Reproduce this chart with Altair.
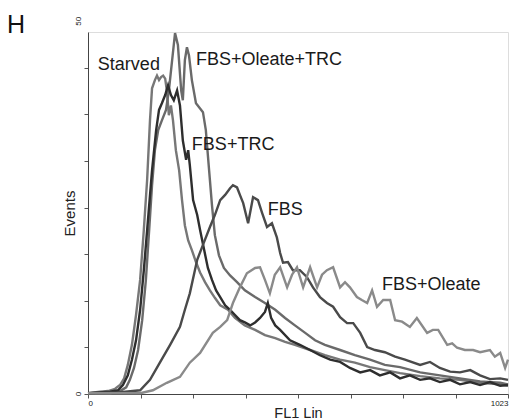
import altair as alt
import pandas as pd

# ---- data: FL1 channel and event counts for each sample ----
starved_ch = [0, 29, 49, 66, 78, 88, 97, 107, 117, 127, 136, 144, 151, 156, 163, 168, 173, 178, 183, 188, 192, 197, 202, 207, 214, 222, 229, 236, 244, 253, 263, 273, 285, 297, 309, 322, 341, 358, 382, 407, 431, 456, 480, 504, 541, 577, 614, 650, 687, 723, 760, 809, 857, 906, 955, 1004, 1023]
starved_n = [0.1, 0.3, 0.4, 0.7, 1.2, 2.1, 3.9, 6.6, 10.6, 15.3, 22.0, 28.7, 36.7, 41.0, 42.1, 42.7, 42.1, 42.5, 42.7, 42.3, 40.7, 37.4, 38.7, 36.7, 32.7, 30.0, 26.0, 22.6, 20.6, 19.3, 17.7, 16.3, 15.0, 13.9, 12.9, 11.9, 11.3, 10.2, 9.2, 8.6, 7.9, 7.5, 7.0, 6.6, 5.9, 5.2, 4.6, 4.2, 3.6, 3.2, 2.8, 2.4, 2.1, 1.9, 1.5, 1.3, 1.1]

oltrc_ch = [0, 54, 78, 93, 102, 112, 122, 132, 141, 149, 156, 163, 171, 180, 190, 197, 205, 212, 219, 227, 231, 236, 241, 246, 253, 263, 273, 280, 287, 295, 302, 309, 319, 331, 346, 363, 382, 407, 431, 456, 480, 504, 529, 553, 577, 614, 650, 687, 723, 760, 809, 857, 906, 955, 1004, 1023]
oltrc_n = [0.1, 0.1, 0.4, 0.9, 1.9, 3.5, 5.9, 9.9, 15.3, 22.0, 28.0, 32.7, 35.4, 36.7, 38.1, 40.7, 44.8, 48.4, 46.8, 40.7, 39.4, 44.8, 46.5, 45.4, 42.1, 39.0, 38.3, 37.8, 35.4, 30.0, 25.3, 21.3, 18.6, 16.9, 15.9, 15.0, 13.9, 13.0, 12.2, 11.3, 10.2, 9.2, 8.2, 7.2, 6.6, 5.9, 5.2, 4.6, 3.9, 3.6, 2.9, 2.5, 2.1, 1.7, 1.5, 1.3]

trc_ch = [0, 54, 73, 85, 97, 107, 117, 127, 136, 146, 156, 166, 173, 180, 188, 195, 202, 209, 217, 224, 231, 239, 244, 248, 256, 266, 273, 283, 292, 302, 312, 322, 334, 346, 358, 370, 382, 395, 407, 419, 431, 438, 446, 456, 468, 492, 516, 541, 565, 590, 614, 638, 663, 687, 711, 736, 760, 784, 809, 833, 857, 882, 906, 931, 955, 979, 1004, 1023]
trc_n = [0.1, 0.3, 0.5, 1.2, 2.5, 4.6, 7.2, 11.3, 16.6, 23.3, 30.0, 35.4, 38.1, 39.0, 40.1, 41.4, 40.1, 39.4, 40.7, 38.7, 34.0, 31.4, 32.7, 30.7, 26.0, 24.0, 22.0, 19.3, 16.9, 15.3, 13.9, 13.0, 11.9, 11.3, 10.6, 9.9, 9.6, 9.2, 9.6, 10.2, 11.0, 12.2, 10.2, 9.2, 8.6, 7.2, 6.6, 5.9, 5.2, 4.6, 4.3, 3.5, 2.9, 3.2, 2.5, 2.9, 2.1, 2.5, 1.9, 2.1, 1.6, 1.9, 1.3, 1.6, 1.2, 1.6, 1.1, 1.2]

fbs_ch = [0, 73, 127, 151, 175, 200, 224, 236, 248, 266, 280, 297, 309, 322, 334, 346, 353, 363, 370, 378, 390, 402, 414, 424, 436, 448, 460, 468, 475, 487, 499, 516, 533, 548, 565, 582, 597, 614, 631, 646, 663, 680, 699, 723, 748, 772, 809, 833, 857, 882, 906, 931, 955, 979, 1004, 1023]
fbs_n = [0.1, 0.2, 0.5, 1.9, 4.2, 6.6, 9.0, 11.3, 13.5, 18.0, 20.0, 22.4, 24.0, 26.0, 26.7, 27.6, 28.0, 27.7, 26.7, 25.6, 22.9, 26.4, 26.0, 24.3, 22.4, 22.9, 21.0, 18.9, 17.6, 17.7, 16.6, 16.6, 15.7, 14.3, 13.0, 12.2, 11.7, 10.3, 9.5, 9.5, 8.2, 6.3, 5.9, 5.6, 5.0, 4.6, 3.9, 4.3, 3.5, 3.0, 2.9, 3.2, 2.5, 2.0, 2.1, 1.9]

ol_ch = [0, 127, 158, 192, 224, 248, 273, 304, 322, 339, 353, 370, 387, 407, 419, 431, 443, 455, 468, 485, 497, 509, 524, 541, 558, 570, 582, 597, 614, 626, 638, 655, 667, 680, 692, 704, 719, 736, 748, 765, 784, 801, 826, 840, 853, 875, 887, 899, 918, 938, 955, 979, 991, 1004, 1016, 1023]
ol_n = [0.1, 0.1, 0.5, 1.5, 2.3, 4.2, 5.5, 8.2, 9.0, 9.9, 12.2, 14.3, 16.2, 16.9, 17.0, 15.3, 13.5, 16.0, 17.0, 14.3, 16.0, 17.0, 14.3, 17.0, 14.3, 16.0, 16.6, 17.0, 14.3, 15.0, 14.3, 13.0, 12.6, 12.2, 13.9, 11.7, 12.6, 12.6, 9.9, 9.7, 9.0, 10.2, 8.2, 8.6, 8.6, 6.6, 6.8, 6.2, 5.9, 5.9, 5.6, 5.9, 5.0, 5.5, 3.5, 4.6]

series = [
    ("Starved", starved_ch, starved_n),
    ("FBS+Oleate+TRC", oltrc_ch, oltrc_n),
    ("FBS+TRC", trc_ch, trc_n),
    ("FBS", fbs_ch, fbs_n),
    ("FBS+Oleate", ol_ch, ol_n),
]
colors = ["#777777", "#6a6a6a", "#2e2e2e", "#4a4a4a", "#8a8a8a"]

rows = []
for name, chs, ns in series:
    for i, (c, n) in enumerate(zip(chs, ns)):
        rows.append({"series": name, "ch": c, "n": n, "i": i})
df = pd.DataFrame(rows)

# in-plot series labels (anchored at data coordinates)
lab_names = ["Starved", "FBS+Oleate+TRC", "FBS+TRC", "FBS", "FBS+Oleate"]
lab_ch = [24, 263, 253, 438, 716]
lab_n = [44.1, 44.8, 33.4, 24.7, 14.6]
labels = pd.DataFrame({"t": lab_names, "ch": lab_ch, "n": lab_n})

xdom = [0, 1023]
ydom = [0, 48.55]
xticks = [0, 128, 256, 384, 512, 640, 768, 896, 1023]
yticks = [0, 6.25, 12.5, 18.75, 25, 31.25, 37.5, 43.75]

x = alt.X("ch:Q", scale=alt.Scale(domain=xdom, nice=False, zero=False),
          axis=alt.Axis(title="FL1 Lin", values=xticks, grid=False,
                        labelExpr="datum.value == 0 ? '0' : (datum.value == 1023 ? '1023' : '')",
                        labelFontSize=8, labelFont="Liberation Sans", labelColor="#222",
                        titleFont="Liberation Sans", titleFontSize=14.5, titleFontWeight="normal",
                        titleColor="#222", titlePadding=-1, tickSize=4, tickColor="#555",
                        domainColor="#444", labelPadding=1))
y = alt.Y("n:Q", scale=alt.Scale(domain=ydom, nice=False, zero=True),
          axis=alt.Axis(title="Events", values=yticks, grid=False, labels=False,
                        titleFont="Liberation Sans", titleFontSize=15, titleFontWeight="normal",
                        titleColor="#222", titlePadding=6, tickSize=4, tickColor="#555",
                        domainColor="#444"))

lines = alt.Chart(df).mark_line(strokeWidth=2.4, interpolate="linear").encode(
    x=x, y=y,
    color=alt.Color("series:N", scale=alt.Scale(domain=lab_names, range=colors), legend=None),
    order="i:Q",
)

text = alt.Chart(labels).mark_text(font="Liberation Sans", fontSize=18, color="#1a1a1a",
                                   align="left", baseline="middle").encode(
    x="ch:Q", y="n:Q", text="t:N")

ylab = alt.Chart(pd.DataFrame({"ch": [0, 0], "n": [0, 50], "t": ["0", "50"]})).mark_text(
    font="Liberation Sans", fontSize=8, color="#222", angle=270, dy=-9,
    baseline="middle", align="center", clip=False).encode(
    x="ch:Q", y="n:Q", text="t:N")

panel = alt.Chart(pd.DataFrame({"ch": [0], "t": ["H"]})).mark_text(
    font="Liberation Sans", fontSize=25, color="#111", align="left", baseline="top",
    dx=-81).encode(x="ch:Q", y=alt.value(-19), text="t:N")

chart = alt.layer(lines, text, ylab, panel).properties(
    width=420, height=362,
    autosize=alt.AutoSizeParams(type="none"),
    padding={"left": 80, "top": 24, "right": 4, "bottom": 25},
).configure_view(stroke="#1a1a1a", strokeWidth=1.5).configure(background="white")

chart.save("out.html", embed_options={"renderer": "svg", "actions": False})
